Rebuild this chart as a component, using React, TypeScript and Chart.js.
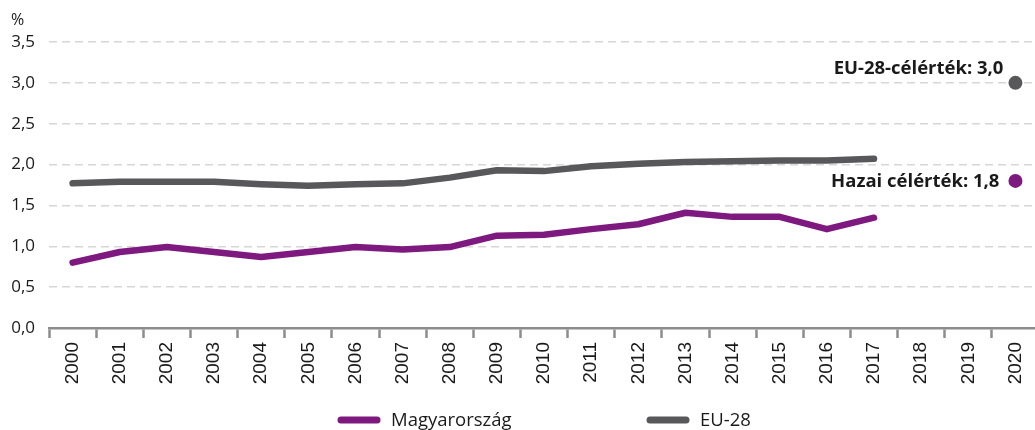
import React, { useEffect, useRef } from "react";
import { Chart, registerables } from "chart.js";

Chart.register(...registerables);

const years = [
  "2000", "2001", "2002", "2003", "2004", "2005", "2006", "2007", "2008", "2009", "2010",
  "2011", "2012", "2013", "2014", "2015", "2016", "2017", "2018", "2019", "2020",
];

const hungary = [
  0.8, 0.93, 0.99, 0.93, 0.87, 0.93, 0.99, 0.96, 0.99, 1.13, 1.14,
  1.21, 1.27, 1.41, 1.36, 1.36, 1.21, 1.35, null, null, null,
];

const eu28 = [
  1.77, 1.79, 1.79, 1.79, 1.76, 1.74, 1.76, 1.77, 1.84, 1.93, 1.92,
  1.98, 2.01, 2.03, 2.04, 2.05, 2.05, 2.07, null, null, null,
];

const euTarget = [
  null, null, null, null, null, null, null, null, null, null, null,
  null, null, null, null, null, null, null, null, null, 3.0,
];

const huTarget = [
  null, null, null, null, null, null, null, null, null, null, null,
  null, null, null, null, null, null, null, null, null, 1.8,
];

const yTickLabels = ["0,0", "0,5", "1,0", "1,5", "2,0", "2,5", "3,0", "3,5"];

const seriesLabels = ["Magyarország", "EU-28"];
const targetLabels = ["EU-28-célérték: 3,0", "Hazai célérték: 1,8"];
const unitLabel = "%";

const PURPLE = "#7e1a7f";
const GRAY = "#58585a";
const TEXT = "#1a1a1a";

const overlayPlugin = {
  id: "overlay",
  afterDraw(chart: any) {
    const ctx = chart.ctx;
    const xs = chart.scales.x;
    const ys = chart.scales.y;
    ctx.save();
    // unit label
    ctx.fillStyle = TEXT;
    ctx.font = '16px "Open Sans"';
    ctx.textAlign = "left";
    ctx.textBaseline = "middle";
    ctx.fillText(unitLabel, 11, 20);

    // target annotations
    const idx = years.length - 1;
    const dx = xs.getPixelForValue(idx);
    ctx.font = 'bold 18.5px "Open Sans"';
    ctx.textAlign = "right";
    ctx.fillText(targetLabels[0], dx - 12, ys.getPixelForValue(euTarget[idx] as number) - 14);
    ctx.fillText(targetLabels[1], dx - 16, ys.getPixelForValue(huTarget[idx] as number) + 1);

    // legend
    const items = [
      { x: 338, color: PURPLE, label: seriesLabels[0] },
      { x: 647, color: GRAY, label: seriesLabels[1] },
    ];
    const ly = 420;
    ctx.font = '18.5px "Open Sans"';
    ctx.textAlign = "left";
    items.forEach((it) => {
      ctx.strokeStyle = it.color;
      ctx.lineWidth = 7;
      ctx.lineCap = "round";
      ctx.beginPath();
      ctx.moveTo(it.x + 3, ly);
      ctx.lineTo(it.x + 39, ly);
      ctx.stroke();
      ctx.fillStyle = TEXT;
      ctx.fillText(it.label, it.x + 53, ly + 1);
    });
    ctx.restore();
  },
};

export default function App() {
  const ref = useRef<HTMLCanvasElement>(null);
  useEffect(() => {
    if (!ref.current) return;
    const chart = new Chart(ref.current, {
      type: "line",
      data: {
        labels: years,
        datasets: [
          {
            label: seriesLabels[0],
            data: hungary,
            borderColor: PURPLE,
            backgroundColor: PURPLE,
            borderWidth: 6.5,
            pointRadius: 0,
            tension: 0,
            borderJoinStyle: "round",
            borderCapStyle: "round",
          },
          {
            label: seriesLabels[1],
            data: eu28,
            borderColor: GRAY,
            backgroundColor: GRAY,
            borderWidth: 6.5,
            pointRadius: 0,
            tension: 0,
            borderJoinStyle: "round",
            borderCapStyle: "round",
          },
          {
            label: targetLabels[0],
            data: euTarget,
            showLine: false,
            pointRadius: 7,
            pointBackgroundColor: GRAY,
            pointBorderWidth: 0,
            borderColor: GRAY,
          },
          {
            label: targetLabels[1],
            data: huTarget,
            showLine: false,
            pointRadius: 7,
            pointBackgroundColor: PURPLE,
            pointBorderWidth: 0,
            borderColor: PURPLE,
          },
        ],
      },
      options: {
        responsive: false,
        animation: false,
        layout: { padding: { top: 42, right: 0, bottom: 0, left: 0 } },
        plugins: {
          legend: { display: false },
          tooltip: { enabled: false },
          title: { display: false },
        },
        scales: {
          x: {
            offset: true,
            grid: {
              display: true,
              drawOnChartArea: false,
              drawTicks: true,
              tickLength: 10,
              tickWidth: 2.5,
              tickColor: "#8c8c8c",
              offset: true,
            },
            border: { display: true, color: "#8c8c8c", width: 2.5 },
            ticks: {
              minRotation: 90,
              maxRotation: 90,
              autoSkip: false,
              padding: 4,
              color: TEXT,
              font: { family: '"Liberation Sans", Arial, sans-serif', size: 19 },
            },
            afterFit: (scale: any) => {
              scale.height = 102;
            },
          },
          y: {
            min: 0,
            max: 3.5,
            ticks: {
              stepSize: 0.5,
              padding: 14,
              color: TEXT,
              font: { family: '"Open Sans"', size: 17 },
              callback: (_v: any, i: number) => yTickLabels[i],
            },
            grid: {
              drawTicks: false,
              color: "#d6d6d6",
              lineWidth: 1.5,
            },
            border: { display: false, dash: [8, 5] },
            afterFit: (scale: any) => {
              scale.width = 49;
            },
          },
        },
      },
      plugins: [overlayPlugin],
    });
    return () => chart.destroy();
  }, []);
  return (
    <div
      style={{
        position: "absolute",
        left: 0,
        top: 0,
        width: 1035,
        height: 430,
        overflow: "hidden",
        background: "#fff",
      }}
    >
      <canvas ref={ref} width={1046} height={430} style={{ display: "block" }} />
    </div>
  );
}
